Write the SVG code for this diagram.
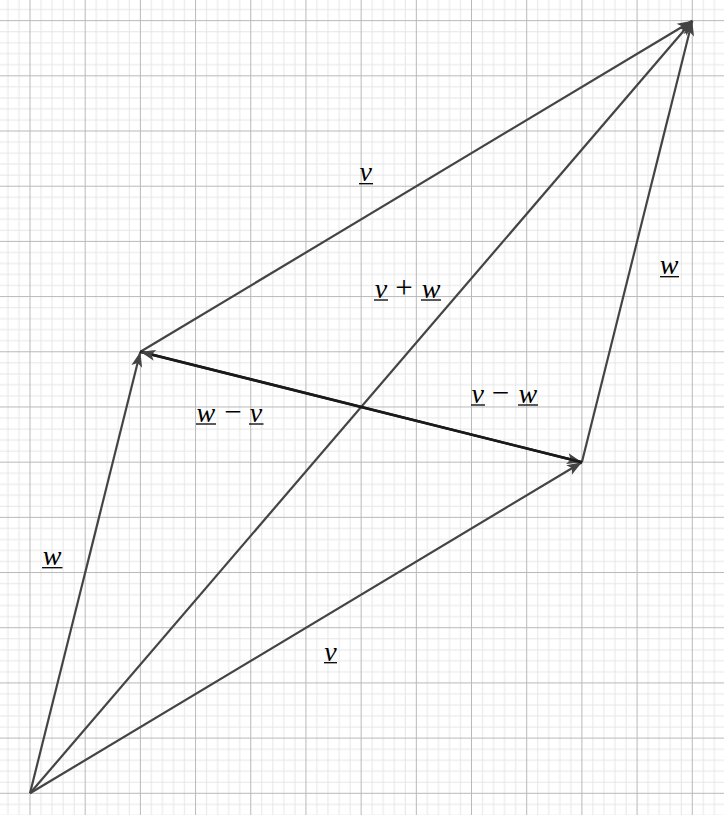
<svg xmlns="http://www.w3.org/2000/svg" width="724" height="815" viewBox="0 0 724 815">
<style>
.vec{stroke:#444;stroke-width:2.2;fill:none;marker-end:url(#ah)}
.dif{stroke:#1a1a1a;stroke-width:2.6;fill:none;marker-end:url(#ah)}
.lbl{font-family:"Liberation Serif","DejaVu Serif",serif;font-style:italic;font-size:28px;fill:#000;text-anchor:middle}
.op{font-family:"Liberation Serif","DejaVu Serif",serif;font-size:31px;fill:#000;text-anchor:middle}
.ul{stroke:#000;stroke-width:1.3}
</style>
<defs>
<pattern id="grid" patternUnits="userSpaceOnUse" x="29.5" y="792.8" width="55.19" height="55.19">
<path d="M11.538,0V55.19M22.576,0V55.19M33.614,0V55.19M44.652,0V55.19M0,11.538H55.19M0,22.576H55.19M0,33.614H55.19M0,44.652H55.19" stroke="#e6e6e6" stroke-width="1" fill="none"/>
<path d="M0.5,0V55.19M0,0.5H55.19" stroke="#b8b8b8" stroke-width="1" fill="none"/>
</pattern>
<marker id="ah" markerUnits="userSpaceOnUse" viewBox="-16 -7 18 14" refX="0" refY="0" markerWidth="18" markerHeight="14" orient="auto">
<path d="M0,0 L-15,-5.5 L-11.5,0 L-15,5.5 Z" fill="#444"/>
</marker>
</defs>
<rect width="724" height="815" fill="#fff"/>
<rect width="724" height="815" fill="url(#grid)"/>
<g id="connectors">
<line id="vec-w" class="vec" x1="30" y1="793.3" x2="140.4" y2="351.8"/>
<line id="vec-v" class="vec" x1="30" y1="793.3" x2="581.9" y2="462.2"/>
<line id="vec-vpw" class="vec" x1="30" y1="793.3" x2="692.3" y2="20.7"/>
<line id="vec-v2" class="vec" x1="140.4" y1="351.8" x2="692.3" y2="20.7"/>
<line id="vec-w2" class="vec" x1="581.9" y1="462.2" x2="692.3" y2="20.7"/>
<line id="vec-vmw" class="dif" x1="140.4" y1="351.8" x2="581.9" y2="462.2"/>
<line id="vec-wmv" class="dif" x1="581.9" y1="462.2" x2="140.4" y2="351.8"/>
</g>
<g id="label-v-top">
<text class="lbl" x="365.8" y="181">v</text>
<line class="ul" x1="359" y1="183.7" x2="373" y2="183.7"/>
</g>
<g id="label-w-right">
<text class="lbl" x="669" y="273.5">w</text>
<line class="ul" x1="660" y1="276.7" x2="679" y2="276.7"/>
</g>
<g id="label-vpw">
<text class="lbl" x="381" y="298">v</text>
<line class="ul" x1="374" y1="300" x2="388" y2="300"/>
<text class="op" x="404" y="298">+</text>
<text class="lbl" x="431" y="298">w</text>
<line class="ul" x1="421" y1="300" x2="441" y2="300"/>
</g>
<g id="label-vmw">
<text class="lbl" x="477.7" y="403">v</text>
<line class="ul" x1="471" y1="405" x2="485" y2="405"/>
<text class="op" x="500.5" y="403">−</text>
<text class="lbl" x="527.8" y="403">w</text>
<line class="ul" x1="518" y1="405" x2="538" y2="405"/>
</g>
<g id="label-wmv">
<text class="lbl" x="205.8" y="422">w</text>
<line class="ul" x1="196" y1="424" x2="216" y2="424"/>
<text class="op" x="233" y="422">−</text>
<text class="lbl" x="256" y="422">v</text>
<line class="ul" x1="249" y1="424" x2="263.5" y2="424"/>
</g>
<g id="label-w-left">
<text class="lbl" x="52.2" y="565">w</text>
<line class="ul" x1="42" y1="567.7" x2="62.5" y2="567.7"/>
</g>
<g id="label-v-bottom">
<text class="lbl" x="330.5" y="661">v</text>
<line class="ul" x1="324" y1="662.7" x2="337" y2="662.7"/>
</g>
</svg>
